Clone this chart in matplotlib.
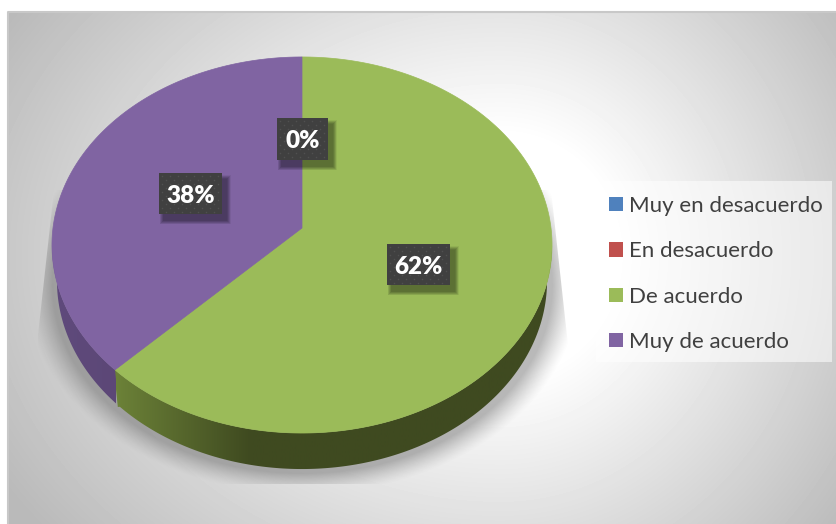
import numpy as np
import matplotlib
matplotlib.use('Agg')
import matplotlib.pyplot as plt
from matplotlib.colors import to_rgb
from matplotlib.patches import Polygon, Rectangle, Patch

categories = ['Muy en desacuerdo', 'En desacuerdo', 'De acuerdo', 'Muy de acuerdo']
values = [0, 0, 62.4, 37.6]
colors = ['#4f81bd', '#c0504d', '#9bbb59', '#8064a2']
side_light = {'De acuerdo': '#6c8238', 'Muy de acuerdo': '#5f4a7c'}
side_dark = {'De acuerdo': '#3f4a20', 'Muy de acuerdo': '#56426c'}

W, H = 837, 524
plt.rcParams['font.family'] = ['Lato', 'DejaVu Sans']
fig = plt.figure(figsize=(W / 100, H / 100), dpi=100)
ax = fig.add_axes([0, 0, 1, 1])

# pie geometry, slight perspective
cx, cy = 302, 228
sx, sy, k = 249, 186.5, 0.0904
depth = 36


def project(theta):
    # theta clockwise from the top, radians
    u, v = np.sin(theta), np.cos(theta)
    w = 1 + k * v
    return cx + sx * u / w, cy - sy * v / w


# background
yy, xx = np.mgrid[12:H, 8:W]
dx = xx - 500.0
dx = np.where(dx < 0, dx / 560, dx / 420)
dy = (yy - 255.0) / 430
r = np.hypot(dx, dy)
bg = 1 - 0.27 * np.clip((r - 0.28) / 0.75, 0, 1)
ax.imshow(bg, extent=(8, W, H, 12), cmap='gray', vmin=0, vmax=1, aspect='auto', zorder=0)
ax.plot([8, 8, W], [H, 12, 12], color='#c8c8c8', lw=1.5, zorder=1)

# soft shadow under the pie, cut off by a trapezoid
yy, xx = np.mgrid[0:H, 0:W]
r = np.hypot((xx - 302) / 250.0, (yy - 285) / 188.0)
shade = np.zeros((H, W, 4))
shade[..., :3] = 0.35
shade[..., 3] = 0.42 * np.clip((1.11 - r) / 0.11, 0, 1) ** 1.3
im = ax.imshow(shade, extent=(0, W, H, 0), aspect='auto', zorder=2)
clip = Polygon([(54, 190), (38, 335), (38, 484), (568, 484), (568, 345), (551, 190)],
               transform=ax.transData, fc='none', ec='none')
ax.add_patch(clip)
im.set_clip_path(clip)

# slices
fractions = np.array(values) / sum(values)
start = 0.0
for name, frac, col in zip(categories, fractions, colors):
    if frac == 0:
        continue
    t = np.linspace(start, start + frac * 2 * np.pi, 300)
    start += frac * 2 * np.pi
    x, y = project(t)

    # side wall: lower part of the rim, bottom curve a little narrower
    front = y >= 245
    xf, yf = x[front], y[front]
    order = np.argsort(xf)
    xf, yf = xf[order], yf[order]
    xb = cx + (xf - cx) * 0.98
    wall = Polygon(np.r_[np.c_[xf, yf], np.c_[xb[::-1], yf[::-1] + depth]], closed=True,
                   fc='none', ec='none', transform=ax.transData)
    ax.add_patch(wall)
    a, b = np.array(to_rgb(side_light[name])), np.array(to_rgb(side_dark[name]))
    x0, x1 = xf.min(), xf.max()
    g = np.clip((np.linspace(x0, x1, 300) - x0) / max(250 - x0, 1), 0, 1)
    img = a * (1 - g)[:, None] + b * g[:, None]
    w = ax.imshow(img[None, :, :], extent=(x0, x1, H, 0), aspect='auto', zorder=3)
    w.set_clip_path(wall)

    # seam between the two walls
    if name == 'De acuerdo':
        ax.plot([xf[0], xb[0]], [yf[0], yf[0] + depth], color=side_light[name], lw=1.5, zorder=3)

    ax.add_patch(Polygon(np.r_[[[cx, cy]], np.c_[x, y]], closed=True, fc=col, ec=col, lw=0.5, zorder=4))


def label(text, x0, y0, w, h):
    for i in range(8, 0, -1):
        ax.add_patch(Rectangle((x0 + 5 - i * 0.5, y0 + 6 - i * 0.5), w + i, h + i, fc='black',
                               ec='none', alpha=0.06, zorder=5))
    ax.add_patch(Rectangle((x0, y0), w, h, fc='#404040', ec='none', zorder=6))
    for off in (3, 7):
        gx, gy = np.meshgrid(np.arange(x0 + off, x0 + w - 1, 8), np.arange(y0 + off, y0 + h - 1, 8))
        ax.scatter(gx.ravel(), gy.ravel(), s=1.2, c='#505050', linewidths=0, zorder=7)
    ax.text(x0 + w / 2, y0 + h / 2 + 2.5, text, color='white', fontsize=17.5, fontweight='heavy',
            ha='center', va='center', zorder=8)


label('%.0f%%' % values[1], 277, 118, 51, 42)
label('%.0f%%' % values[3], 159, 173, 63, 41)
label('%.0f%%' % values[2], 387, 244, 63, 41)

# legend panel
ax.add_patch(Rectangle((596, 181), 236, 181, fc='white', ec='none', alpha=0.55, zorder=8))
handles = [Patch(fc=c, ec='none', label=n) for n, c in zip(categories, colors)]
leg = ax.legend(handles=handles, loc='upper left', bbox_to_anchor=(609 / W, 1 - 196 / H),
                fontsize=16, labelcolor='#404040', frameon=False, labelspacing=1.14,
                handlelength=0.62, handleheight=0.62, handletextpad=0.27, borderpad=0,
                borderaxespad=0)
leg.set_zorder(9)

ax.set_xlim(0, W)
ax.set_ylim(H, 0)
ax.axis('off')

fig.savefig('out.png', dpi=100)
